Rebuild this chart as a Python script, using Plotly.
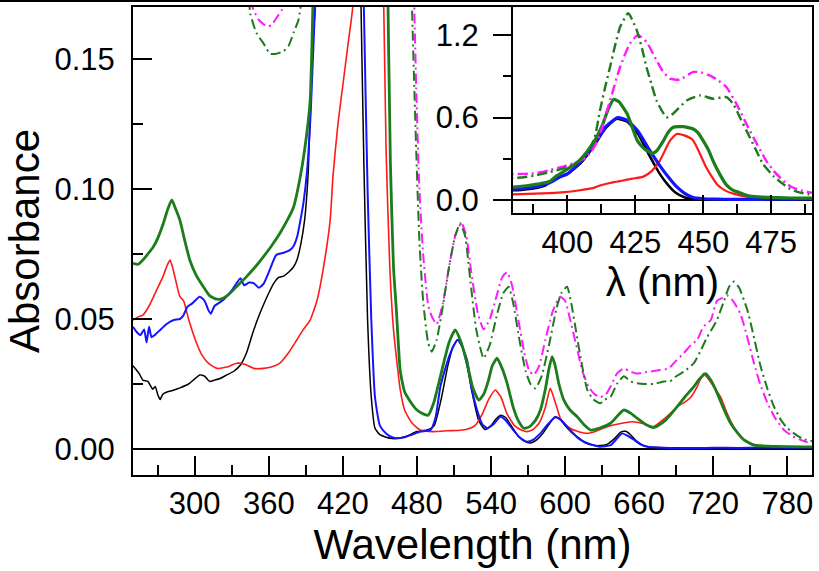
import plotly.graph_objects as go

# ---------------- data ----------------
wl_black = [250, 255, 258, 262, 266, 268, 270, 272, 274, 278, 282, 288, 295, 300, 304, 308, 312, 316, 320, 326,
            332, 337, 342, 347, 351, 355, 360, 364, 368, 372, 376, 380, 383, 386, 389, 392, 395, 400, 405, 410,
            414, 418, 422, 426, 430, 434, 437, 440, 443, 446, 450, 455, 460, 466, 472, 480, 488, 494, 500, 505,
            509, 513, 517, 521, 525, 530, 535, 540, 544, 548, 552, 557, 562, 567, 572, 577, 582, 587, 592, 596,
            600, 605, 610, 616, 622, 628, 634, 640, 645, 649, 653, 658, 663, 668, 680, 700, 720, 740, 760, 780, 800]
abs_black = [0.032, 0.029, 0.0265, 0.026, 0.023, 0.024, 0.021, 0.019, 0.021, 0.022, 0.0225, 0.0235, 0.025, 0.027,
             0.0285, 0.028, 0.026, 0.0265, 0.027, 0.0285, 0.030, 0.0323, 0.037, 0.0446, 0.050, 0.0547, 0.060, 0.0637,
             0.066, 0.0665, 0.068, 0.070, 0.073, 0.079, 0.088, 0.107, 0.15, 0.19, 0.27, 0.40, 0.52, 0.59, 0.57, 0.48,
             0.33, 0.19, 0.11, 0.05, 0.02, 0.008, 0.0055, 0.0045, 0.004, 0.0042, 0.005, 0.0067, 0.0073, 0.009, 0.02,
             0.032, 0.039, 0.042, 0.039, 0.031, 0.021, 0.011, 0.0075, 0.009, 0.0115, 0.013, 0.012, 0.0085, 0.005,
             0.003, 0.0023, 0.0035, 0.006, 0.0095, 0.0124, 0.0115, 0.009, 0.0065, 0.0047, 0.0025, 0.0015, 0.0013,
             0.0018, 0.004, 0.0065, 0.0068, 0.0055, 0.003, 0.0015, 0.0008, 0.0005, 0.0004, 0.0005, 0.0004, 0.0005,
             0.0005, 0.0005]

wl_blue = [250, 253, 256, 259, 261, 263, 265, 268, 272, 277, 283, 288, 291, 294, 298, 304, 308, 311, 313, 316,
           323, 330, 337, 340, 344, 348, 352, 356, 360, 366, 372, 377, 380, 383, 386, 388, 391, 394, 397, 400,
           405, 410, 414, 418.5, 422, 426, 430, 434, 437, 440, 443, 446, 450, 455, 460, 464, 470, 476, 483, 491,
           495, 499, 503, 507, 510, 513, 516, 520.6, 524, 528.7, 533, 537, 542, 547.6, 552, 558, 563, 569, 574, 580,
           586, 592, 597, 604, 611, 618, 628, 637, 642, 646, 651, 656, 661, 666.5, 680, 700, 720, 740, 760, 780, 800]
abs_blue = [0.047, 0.045, 0.0438, 0.046, 0.041, 0.047, 0.043, 0.044, 0.0458, 0.048, 0.0496, 0.050, 0.0515, 0.0547,
            0.056, 0.0586, 0.057, 0.0535, 0.052, 0.055, 0.0573, 0.061, 0.0657, 0.063, 0.064, 0.0637, 0.062, 0.0637,
            0.068, 0.0746, 0.0755, 0.0765, 0.078, 0.0817, 0.089, 0.0945, 0.107, 0.13, 0.165, 0.19, 0.28, 0.41, 0.53,
            0.60, 0.58, 0.50, 0.37, 0.25, 0.17, 0.10, 0.05, 0.02, 0.009, 0.006, 0.0045, 0.0041, 0.0045, 0.0055, 0.0067,
            0.0073, 0.012, 0.024, 0.031, 0.0368, 0.040, 0.042, 0.040, 0.0342, 0.024, 0.015, 0.0095, 0.008, 0.0095,
            0.0124, 0.011, 0.0073, 0.0045, 0.0028, 0.0035, 0.006, 0.0095, 0.0122, 0.011, 0.0073, 0.004, 0.0022,
            0.0009, 0.0015, 0.004, 0.006, 0.005, 0.0035, 0.0018, 0.0009, 0.0005, 0.0003, 0.0005, 0.0004, 0.0006,
            0.0005, 0.0006]

wl_red = [250, 255, 258, 263, 269, 274, 278, 280, 282, 285, 288, 291, 295, 301.6, 306, 311, 318, 326, 334, 341,
          348, 355.7, 362, 369, 376, 382.7, 388, 393.5, 399, 404, 409.7, 412, 416, 420, 424, 428, 431, 434, 437.7,
          440.2, 443, 446, 448, 451, 455, 458, 461, 466.5, 470, 476, 482.7, 493, 505, 515, 520.6, 527, 533, 538,
          543.5, 548, 553, 559, 565, 569, 574, 579, 584, 588, 592, 596, 599, 604, 610, 618, 625, 632, 639, 647, 655,
          663, 671.6, 680, 686, 691, 697, 702, 707, 712, 716, 721, 726, 731, 736.5, 742, 747.6, 755, 770, 800]
abs_red = [0.0496, 0.051, 0.0515, 0.055, 0.061, 0.066, 0.071, 0.0727, 0.070, 0.064, 0.0586, 0.057, 0.050, 0.0406,
           0.036, 0.033, 0.031, 0.0315, 0.033, 0.0325, 0.031, 0.031, 0.0315, 0.033, 0.037, 0.042, 0.046, 0.0496,
           0.057, 0.069, 0.088, 0.105, 0.125, 0.14, 0.155, 0.17, 0.21, 0.285, 0.43, 0.48, 0.47, 0.44, 0.37, 0.24,
           0.115, 0.07, 0.046, 0.0227, 0.015, 0.010, 0.0073, 0.0067, 0.007, 0.0072, 0.0076, 0.009, 0.0135, 0.019,
           0.0227, 0.020, 0.0135, 0.009, 0.0072, 0.0067, 0.0075, 0.010, 0.016, 0.0233, 0.018, 0.012, 0.010, 0.008,
           0.0068, 0.006, 0.0068, 0.0082, 0.0092, 0.010, 0.0105, 0.0098, 0.0086, 0.0115, 0.014, 0.0163, 0.018,
           0.020, 0.024, 0.029, 0.027, 0.0235, 0.020, 0.014, 0.0086, 0.005, 0.0028, 0.0015, 0.001, 0.0008]

wl_green = [250, 254, 258, 262, 266.5, 270, 274.6, 278, 281.4, 284, 288, 292, 296, 301, 307, 312, 317.9, 323, 328.6,
            335, 342, 349, 355.7, 362, 369, 375, 380, 385, 389, 393.5, 396, 400, 404, 407, 410, 413, 415, 417, 419,
            422, 425.8, 428.5, 431.3, 433, 435.3, 437, 439, 442.6, 446.3, 448, 450, 452, 453.6, 456, 458.5, 461,
            463.4, 466.5, 470, 475, 480, 485, 489, 493.5, 497, 501.6, 506, 511, 515, 520.6, 525, 530, 534, 538, 541,
            544.9, 549, 553, 558, 562, 566.5, 571, 576, 580, 584, 587, 589.5, 592, 595, 599, 604, 609.8, 615, 620.6,
            628, 636.8, 642, 647.6, 653, 658.4, 665, 671.9, 680, 685, 690.8, 697, 704.3, 709, 713.8, 718, 723.3, 728,
            734.1, 740, 744.9, 753, 770, 800]
abs_green = [0.0714, 0.071, 0.0727, 0.075, 0.0778, 0.081, 0.0868, 0.092, 0.0958, 0.093, 0.088, 0.080, 0.0727, 0.067,
             0.0624, 0.059, 0.0576, 0.058, 0.0599, 0.063, 0.0663, 0.070, 0.074, 0.078, 0.083, 0.088, 0.093, 0.1035,
             0.115, 0.134, 0.175, 0.224, 0.28, 0.346, 0.43, 0.55, 0.66, 0.732, 0.715, 0.627, 0.43, 0.37, 0.339, 0.36,
             0.43, 0.49, 0.529, 0.534, 0.517, 0.49, 0.43, 0.36, 0.285, 0.19, 0.11, 0.07, 0.053, 0.03, 0.022, 0.018,
             0.015, 0.0135, 0.013, 0.0176, 0.024, 0.033, 0.041, 0.0458, 0.042, 0.033, 0.024, 0.0188, 0.021, 0.0265,
             0.032, 0.0349, 0.031, 0.0253, 0.016, 0.011, 0.008, 0.0085, 0.011, 0.015, 0.023, 0.031, 0.0355, 0.032,
             0.025, 0.0188, 0.015, 0.0124, 0.0095, 0.0073, 0.008, 0.0099, 0.0125, 0.015, 0.0138, 0.0118, 0.0095,
             0.0082, 0.0105, 0.013, 0.0163, 0.020, 0.024, 0.027, 0.029, 0.0265, 0.0214, 0.016, 0.0099, 0.006, 0.0035,
             0.0015, 0.001, 0.0008]

wl_green_dd = [250, 300, 335, 340, 343, 345, 350, 355.7, 361, 366, 371.9, 376, 380, 384, 387.5, 393, 399.7, 404, 407,
               410, 412, 414, 415.7, 417.5, 419.4, 422.4, 425.5, 427.5, 429.1, 431, 432.8, 436.5, 439, 443.9, 448.8,
               453.6, 458.5, 461, 463.5, 465.9, 469, 472, 476, 479.4, 482, 485, 489, 492, 496, 501, 506, 511, 515,
               519, 523, 528, 534, 539, 545, 550, 554.3, 558, 563, 568, 572, 576, 581, 587, 593, 597, 601.6, 605, 609,
               613, 618, 623, 628.6, 632, 636.8, 642, 647.6, 653, 658.4, 665, 672, 680, 685, 690, 697, 704.3, 710, 715,
               720, 723, 728, 733, 736.8, 741, 747.6, 752, 758.4, 764, 769.2, 775, 780, 785.4, 792, 800]
abs_green_dd = [0.30, 0.30, 0.24, 0.20, 0.18, 0.1675, 0.160, 0.156, 0.152, 0.152, 0.153, 0.155, 0.16, 0.165, 0.176,
                0.20, 0.236, 0.28, 0.334, 0.45, 0.651, 0.83, 0.968, 1.12, 1.26, 1.359, 1.237, 1.10, 0.968, 0.84, 0.724,
                0.602, 0.63, 0.724, 0.761, 0.737, 0.749, 0.70, 0.60, 0.505, 0.38, 0.261, 0.17, 0.115, 0.08, 0.057,
                0.041, 0.0374, 0.042, 0.055, 0.070, 0.082, 0.0868, 0.082, 0.066, 0.046, 0.0349, 0.040, 0.052, 0.060,
                0.0624, 0.056, 0.042, 0.030, 0.025, 0.0233, 0.028, 0.040, 0.054, 0.060, 0.0624, 0.056, 0.045, 0.034,
                0.0227, 0.019, 0.0176, 0.019, 0.020, 0.025, 0.028, 0.026, 0.0253, 0.025, 0.025, 0.026, 0.026, 0.028,
                0.030, 0.033, 0.038, 0.043, 0.047, 0.0496, 0.056, 0.0625, 0.0644, 0.062, 0.0535, 0.045, 0.0317, 0.023,
                0.0163, 0.011, 0.008, 0.006, 0.004, 0.003]

wl_magenta_dd = [250, 300, 335, 340, 344, 347.5, 352, 358.4, 362, 366.5, 371.9, 376, 380, 387.5, 393, 399.7, 404,
                 407, 410, 412, 415.7, 419.4, 423, 426, 429.1, 432.8, 435, 437.7, 441.4, 446.3, 449, 452.4, 455.5,
                 458.5, 462.2, 467.1, 473.2, 476, 479.4, 482, 485, 489.2, 492, 496, 501, 506, 511, 516, 520, 524, 529,
                 534, 539, 544, 549, 553, 557, 562, 567, 571, 574.6, 579, 584, 590, 596, 600, 604, 609, 614, 619, 624,
                 628.6, 633, 636.8, 642, 647.6, 652, 658, 665, 672, 677, 684, 690, 696, 702, 707, 712, 718, 723, 727,
                 731.4, 736, 742, 747, 753, 758, 764, 770, 777.3, 784, 790.8, 800]
abs_magenta_dd = [0.30, 0.30, 0.23, 0.20, 0.175, 0.169, 0.165, 0.1625, 0.163, 0.166, 0.17, 0.178, 0.188, 0.193, 0.215,
                  0.249, 0.28, 0.31, 0.39, 0.48, 0.724, 0.968, 1.139, 1.2, 1.151, 1.017, 0.94, 0.883, 0.876, 0.932,
                  0.93, 0.907, 0.87, 0.822, 0.70, 0.505, 0.285, 0.21, 0.139, 0.10, 0.075, 0.055, 0.051, 0.048, 0.056,
                  0.070, 0.082, 0.087, 0.082, 0.068, 0.053, 0.046, 0.050, 0.058, 0.066, 0.068, 0.063, 0.050, 0.037,
                  0.030, 0.0285, 0.032, 0.042, 0.053, 0.0586, 0.057, 0.050, 0.040, 0.030, 0.024, 0.021, 0.020, 0.021,
                  0.024, 0.029, 0.031, 0.030, 0.029, 0.0295, 0.030, 0.0304, 0.031, 0.034, 0.0368, 0.040, 0.042, 0.047,
                  0.0496, 0.057, 0.058, 0.059, 0.057, 0.052, 0.044, 0.033, 0.025, 0.0176, 0.012, 0.0073, 0.005, 0.0035,
                  0.002]

main_x_ticks = [300, 360, 420, 480, 540, 600, 660, 720, 780]
main_y_ticks = [0.00, 0.05, 0.10, 0.15]
inset_x_ticks = [400, 425, 450, 475]
inset_y_ticks = [0.0, 0.6, 1.2]

# ---------------- styles ----------------
FONT = "Liberation Sans, Arial, sans-serif"
GREEN = "#1b7d1b"
GREEN_DD = "#1f7a1f"
MAGENTA = "#ff1aff"
RED = "#ff1a1a"
BLUE = "#1414ff"
BLACK = "#000000"
DASHDOT = "10px,4px,2px,4px"

series = [
    (wl_black, abs_black, BLACK, 1.5, 2.5, "solid"),
    (wl_red, abs_red, RED, 1.6, 2.2, "solid"),
    (wl_blue, abs_blue, BLUE, 2.0, 3.2, "solid"),
    (wl_green, abs_green, GREEN, 2.8, 3.2, "solid"),
    (wl_magenta_dd, abs_magenta_dd, MAGENTA, 2.0, 2.4, DASHDOT),
    (wl_green_dd, abs_green_dd, GREEN_DD, 2.0, 2.4, DASHDOT),
]

fig = go.Figure()
for x, y, c, w_main, w_in, dash in series:
    fig.add_trace(go.Scatter(x=x, y=y, mode="lines", xaxis="x", yaxis="y",
                             line=dict(color=c, width=w_main, dash=dash, shape="spline", smoothing=0.5),
                             showlegend=False, hoverinfo="skip"))
for x, y, c, w_main, w_in, dash in series:
    fig.add_trace(go.Scatter(x=x, y=y, mode="lines", xaxis="x2", yaxis="y2",
                             line=dict(color=c, width=w_in, dash=dash, shape="spline", smoothing=0.5),
                             showlegend=False, hoverinfo="skip"))

W, H = 819, 571
ML, MR, MT, MB = 133, 7, 7, 96
PW, PH = W - ML - MR, H - MT - MB

tickfont = dict(family=FONT, size=31, color="black")

fig.update_layout(
    width=W, height=H, autosize=False,
    margin=dict(l=ML, r=MR, t=MT, b=MB, pad=0, autoexpand=False),
    paper_bgcolor="white", plot_bgcolor="white",
    font=dict(family=FONT, color="black"),
    showlegend=False,
    xaxis=dict(
        domain=[0, 1], range=[250, 800], tickmode="array", tickvals=main_x_ticks,
        ticks="inside", ticklen=19, tickwidth=2, tickcolor="black",
        minor=dict(dtick=30, tick0=270, ticks="inside", ticklen=10, tickwidth=2, tickcolor="black"),
        showline=True, linewidth=2, linecolor="black", mirror=True, automargin=False,
        showgrid=False, zeroline=False, tickfont=tickfont, ticklabelstandoff=0,
        title=dict(text="Wavelength (nm)", font=dict(family=FONT, size=42), standoff=5),
    ),
    yaxis=dict(
        domain=[0, 1], range=[-0.01, 0.17], tickmode="array", tickvals=main_y_ticks,
        tickformat=".2f",
        ticks="inside", ticklen=19, tickwidth=2, tickcolor="black",
        minor=dict(dtick=0.025, tick0=0, ticks="inside", ticklen=10, tickwidth=2, tickcolor="black"),
        showline=True, linewidth=2, linecolor="black", mirror=True, automargin=False,
        showgrid=False, zeroline=True, zerolinecolor="black", zerolinewidth=2,
        tickfont=tickfont, ticklabelstandoff=10,
        title=dict(text="Absorbance", font=dict(family=FONT, size=42), standoff=2),
    ),
    xaxis2=dict(
        domain=[(513 - ML) / PW, 1], range=[380, 490], anchor="y2",
        tickmode="array", tickvals=inset_x_ticks,
        ticks="inside", ticklen=18, tickwidth=2, tickcolor="black",
        minor=dict(dtick=12.5, tick0=387.5, ticks="inside", ticklen=9, tickwidth=2, tickcolor="black"),
        showline=True, linewidth=2, linecolor="black", mirror=True, automargin=False,
        showgrid=False, zeroline=False, tickfont=tickfont, ticklabelstandoff=1,
        title=dict(text="λ (nm)", font=dict(family=FONT, size=40), standoff=0),
    ),
    yaxis2=dict(
        domain=[(H - MB - 213) / PH, 1], range=[-0.095, 1.405], anchor="x2",
        tickmode="array", tickvals=inset_y_ticks, tickformat=".1f",
        ticks="outside", ticklen=18, tickwidth=2, tickcolor="black",
        minor=dict(dtick=0.3, tick0=0, ticks="outside", ticklen=8, tickwidth=2, tickcolor="black"),
        showline=True, linewidth=2, linecolor="black", mirror=True, automargin=False,
        showgrid=False, zeroline=True, zerolinecolor="black", zerolinewidth=2,
        tickfont=tickfont, ticklabelstandoff=8,
    ),
    shapes=[dict(type="line", xref="paper", yref="paper",
                 x0=-ML / PW, x1=1 + MR / PW, y0=1 + 6 / PH, y1=1 + 6 / PH,
                 line=dict(color="black", width=2))],
)

fig.write_html("out.html", config={"displayModeBar": False},
               post_script="document.body.style.margin='0px';document.body.style.overflow='hidden';")
